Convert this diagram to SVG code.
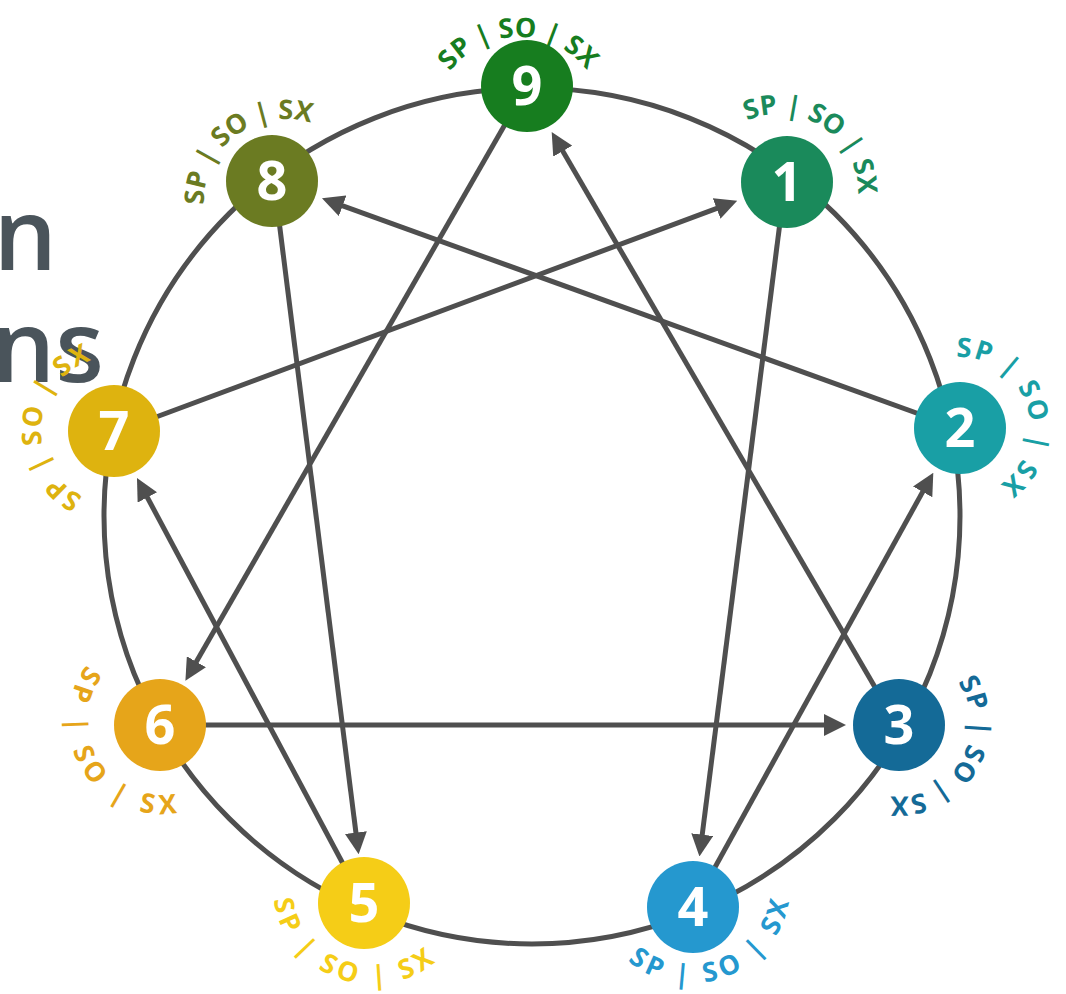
<svg xmlns="http://www.w3.org/2000/svg" width="1066" height="994" viewBox="0 0 1066 994">
<style>
.head{font-family:"Open Sans","Liberation Sans",sans-serif;font-weight:600;font-size:100px;fill:#4a545b}
.ring{fill:none;stroke:#4f4f4f;stroke-width:5}
.conn line{stroke:#4f4f4f;stroke-width:5;marker-end:url(#arr)}
.num{font-family:"Open Sans","Liberation Sans",sans-serif;font-weight:700;font-size:54px;fill:#ffffff;text-anchor:middle}
.lab{font-family:"Open Sans","Liberation Sans",sans-serif;font-weight:700;font-size:27px;text-anchor:middle}
</style>
<defs>
<marker id="arr" markerUnits="userSpaceOnUse" viewBox="0 0 22 22" markerWidth="22" markerHeight="22" refX="16" refY="11" orient="auto">
<path d="M0,0 L22,11 L0,22 Z" fill="#4f4f4f"/>
</marker>
<path id="a9" d="M519.75,209 A86,86 0 1,1 518.25,37 A86,86 0 1,1 519.75,209"/>
<path id="a8" d="M334.3,264.3 A81,81 0 1,1 235.7,135.7 A81,81 0 1,1 334.3,264.3"/>
<path id="a1" d="M739.6,252.5 A75,75 0 1,1 822.4,127.5 A75,75 0 1,1 739.6,252.5"/>
<path id="a2" d="M893.8,449.8 A70,70 0 1,1 1026.2,404.2 A70,70 0 1,1 893.8,449.8"/>
<path id="a3" d="M839.7,689.5 A70,70 0 1,1 960.3,760.5 A70,70 0 1,1 839.7,689.5"/>
<path id="a7" d="M186.9,434.5 A73,73 0 1,1 41.1,425.5 A73,73 0 1,1 186.9,434.5"/>
<path id="a4" d="M659.2,796.8 A96,96 0 1,0 724.8,977.2 A96,96 0 1,0 659.2,796.8"/>
<path id="a5" d="M405.4,798.4 A96,96 0 1,0 336.6,977.6 A96,96 0 1,0 405.4,798.4"/>
<path id="a6" d="M240.3,672.4 A93,93 0 1,0 81.7,769.6 A93,93 0 1,0 240.3,672.4"/>
</defs>
<rect width="1066" height="994" fill="#ffffff"/>
<g id="heading">
<text class="head" x="57" y="270" text-anchor="end">n</text>
<text class="head" x="104" y="382" text-anchor="end">ns</text>
</g>
<circle class="ring" cx="532" cy="516" r="428"/>
<g id="connectors" class="conn">
<line x1="526" y1="88" x2="188.4" y2="675.6"/>
<line x1="160" y1="725" x2="840" y2="725"/>
<line x1="897" y1="725" x2="554.7" y2="137.3"/>
<line x1="785" y1="183" x2="700.2" y2="850.5"/>
<line x1="693" y1="907" x2="930.4" y2="477.9"/>
<line x1="958" y1="428" x2="327.6" y2="200.4"/>
<line x1="274" y1="181" x2="357.9" y2="848.4"/>
<line x1="365" y1="905" x2="139.8" y2="483.3"/>
<line x1="113" y1="433" x2="731.6" y2="202.9"/>
</g>
<g id="node9">
<circle cx="527" cy="86" r="46" fill="#177d1f"/>
<text class="num" x="527" y="105">9</text>
<text class="lab" fill="#177d1f"><textPath href="#a9" startOffset="50%" textLength="158" lengthAdjust="spacing">SP | SO | SX</textPath></text>
</g>
<g id="node1">
<circle cx="787" cy="182" r="46" fill="#1a8a5b"/>
<text class="num" x="787" y="201">1</text>
<text class="lab" fill="#1a8a5b"><textPath href="#a1" startOffset="50%" textLength="158" lengthAdjust="spacing">SP | SO | SX</textPath></text>
</g>
<g id="node2">
<circle cx="960" cy="428" r="46" fill="#199fa5"/>
<text class="num" x="960" y="447">2</text>
<text class="lab" fill="#199fa5"><textPath href="#a2" startOffset="50%" textLength="181" lengthAdjust="spacing">SP | SO | SX</textPath></text>
</g>
<g id="node3">
<circle cx="899" cy="725" r="46" fill="#146a97"/>
<text class="num" x="899" y="744">3</text>
<text class="lab" fill="#146a97"><textPath href="#a3" startOffset="50%" textLength="166" lengthAdjust="spacing">SP | SO | SX</textPath></text>
</g>
<g id="node4">
<circle cx="693" cy="907" r="46" fill="#2598cf"/>
<text class="num" x="693" y="926">4</text>
<text class="lab" fill="#2598cf"><textPath href="#a4" startOffset="50%" textLength="207" lengthAdjust="spacing">SP | SO | SX</textPath></text>
</g>
<g id="node5">
<circle cx="364" cy="903" r="46" fill="#f5cd17"/>
<text class="num" x="364" y="922">5</text>
<text class="lab" fill="#f5cd17"><textPath href="#a5" startOffset="50%" textLength="210" lengthAdjust="spacing">SP | SO | SX</textPath></text>
</g>
<g id="node6">
<circle cx="160" cy="725" r="46" fill="#e6a51a"/>
<text class="num" x="160" y="744">6</text>
<text class="lab" fill="#e6a51a"><textPath href="#a6" startOffset="50%" textLength="222" lengthAdjust="spacing">SP | SO | SX</textPath></text>
</g>
<g id="node7">
<circle cx="114" cy="431" r="46" fill="#deb30f"/>
<text class="num" x="114" y="450">7</text>
<text class="lab" fill="#deb30f"><textPath href="#a7" startOffset="50%" textLength="174" lengthAdjust="spacing">SP | SO | SX</textPath></text>
</g>
<g id="node8">
<circle cx="272" cy="181" r="46" fill="#6b7b22"/>
<text class="num" x="272" y="200">8</text>
<text class="lab" fill="#6b7b22"><textPath href="#a8" startOffset="50%" textLength="158" lengthAdjust="spacing">SP | SO | SX</textPath></text>
</g>
</svg>
